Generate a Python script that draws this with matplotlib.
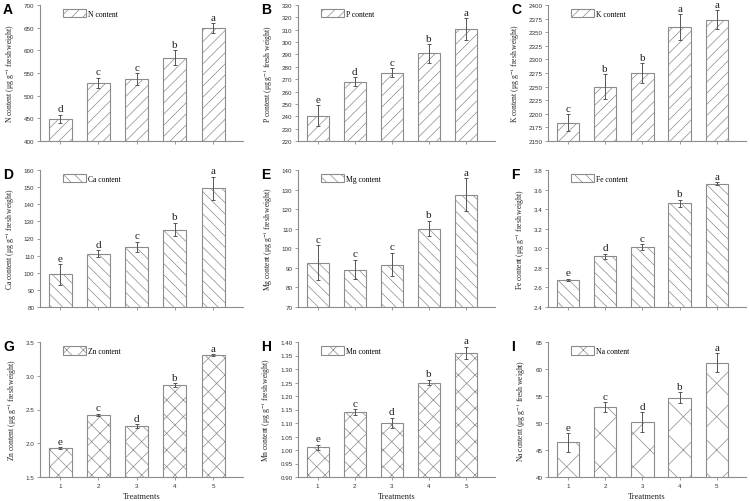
import matplotlib
matplotlib.use('Agg')
import matplotlib.pyplot as plt
from matplotlib.patches import Patch

plt.rcParams['font.family'] = ['Liberation Serif', 'DejaVu Serif']
plt.rcParams['mathtext.fontset'] = 'stix'
plt.rcParams['hatch.linewidth'] = 0.5
plt.rcParams['hatch.color'] = '#8c8c8c'

treatments = [1, 2, 3, 4, 5]

# valores (media, erro, letra)
n_vals = [449, 529, 536, 584, 649]
n_err = [9, 11, 13, 16, 11]
n_sig = ['d', 'c', 'c', 'b', 'a']

p_vals = [240.3, 268, 275.4, 290.8, 310.5]
p_err = [8.5, 3.5, 3.5, 7.5, 9]
p_sig = ['e', 'd', 'c', 'b', 'a']

k_vals = [2184, 2250, 2275, 2359, 2373]
k_err = [15, 23, 18, 24, 18]
k_sig = ['c', 'b', 'b', 'a', 'a']

ca_vals = [99, 111, 115.2, 125.2, 149.2]
ca_err = [6, 2, 3, 4, 7]
ca_sig = ['e', 'd', 'c', 'b', 'a']

mg_vals = [92.7, 89.1, 91.7, 110.1, 127.4]
mg_err = [9, 5, 6, 4, 8.3]
mg_sig = ['c', 'c', 'c', 'b', 'a']

fe_vals = [2.68, 2.92, 3.01, 3.46, 3.66]
fe_err = [0.01, 0.025, 0.03, 0.035, 0.013]
fe_sig = ['e', 'd', 'c', 'b', 'a']

zn_vals = [1.93, 2.42, 2.25, 2.86, 3.31]
zn_err = [0.01, 0.02, 0.03, 0.03, 0.01]
zn_sig = ['e', 'c', 'd', 'b', 'a']

mn_vals = [1.01, 1.14, 1.10, 1.25, 1.36]
mn_err = [0.01, 0.012, 0.02, 0.01, 0.022]
mn_sig = ['e', 'c', 'd', 'b', 'a']

na_vals = [46.4, 52.9, 50.2, 54.7, 61.2]
na_err = [1.7, 0.9, 1.8, 1.0, 1.7]
na_sig = ['e', 'c', 'd', 'b', 'a']

# (letra, elemento, valores, erros, letras, ylim, passo, hachura)
paineis = [
    ('A', 'N', n_vals, n_err, n_sig, (400, 700), 50, '///'),
    ('B', 'P', p_vals, p_err, p_sig, (220, 330), 10, '///'),
    ('C', 'K', k_vals, k_err, k_sig, (2150, 2400), 25, '///'),
    ('D', 'Ca', ca_vals, ca_err, ca_sig, (80, 160), 10, '\\\\\\'),
    ('E', 'Mg', mg_vals, mg_err, mg_sig, (70, 140), 10, '\\\\\\'),
    ('F', 'Fe', fe_vals, fe_err, fe_sig, (2.4, 3.8), 0.2, '\\\\\\'),
    ('G', 'Zn', zn_vals, zn_err, zn_sig, (1.5, 3.5), 0.5, 'xx'),
    ('H', 'Mn', mn_vals, mn_err, mn_sig, (0.90, 1.40), 0.05, 'xx'),
    ('I', 'Na', na_vals, na_err, na_sig, (40, 65), 5, 'x'),
]
formatos = ['%d', '%d', '%d', '%d', '%d', '%.1f', '%.1f', '%.2f', '%d']

W, H = 750, 502
esquerdas = [40, 298, 548]
larguras = [203, 197, 198]
topos = [6, 171, 343]
alturas = [136, 137, 135]

fig = plt.figure(figsize=(7.5, 5.02), dpi=100)

for i, (letra, elem, vals, errs, sig, ylim, passo, hatch) in enumerate(paineis):
    lin, col = divmod(i, 3)
    l, w = esquerdas[col], larguras[col]
    t, h = topos[lin], alturas[lin]
    ax = fig.add_axes([l / W, 1 - (t + h) / H, w / W, h / H])

    ax.bar(treatments, vals, width=0.6, color='white', edgecolor='#8c8c8c',
           linewidth=0.8, hatch=hatch)
    ax.errorbar(treatments, vals, yerr=errs, fmt='none', ecolor='#555555',
                elinewidth=0.7, capsize=1.5, capthick=0.7)
    for x, v, e, s in zip(treatments, vals, errs, sig):
        ax.annotate(s, (x, v + e), xytext=(0, 1), textcoords='offset points',
                    ha='center', va='bottom', fontsize=8, color='#222222')

    ax.set_xlim(0.47, 5.78)
    ax.set_ylim(*ylim)
    n = int(round((ylim[1] - ylim[0]) / passo))
    ticks = [ylim[0] + k * passo for k in range(n + 1)]
    ax.set_yticks(ticks)
    ax.set_yticklabels([formatos[i] % tk for tk in ticks])
    ax.set_xticks(treatments)
    if lin == 2:
        ax.set_xticklabels([str(x) for x in treatments])
        ax.set_xlabel('Treatments', fontsize=6, labelpad=3, color='#222222')
    else:
        ax.set_xticklabels([])

    for lado in ['top', 'right']:
        ax.spines[lado].set_visible(False)
    for lado in ['left', 'bottom']:
        ax.spines[lado].set_color('#8c8c8c')
        ax.spines[lado].set_linewidth(0.8)
    ax.tick_params(length=2, width=0.6, color='#8c8c8c', labelsize=4.5,
                   labelcolor='#333333', pad=2)
    for lb in ax.get_xticklabels() + ax.get_yticklabels():
        lb.set_fontfamily('Liberation Sans')

    ax.set_ylabel(elem + r' content (μg g$^{-1}$ fresh weight)', fontsize=5.5,
                  color='#222222', labelpad=5)

    handle = Patch(facecolor='white', edgecolor='#8c8c8c', hatch=hatch,
                   linewidth=0.8, label=elem + ' content')
    ax.legend(handles=[handle], loc='upper left', bbox_to_anchor=(0.08, 1.02),
              frameon=False, fontsize=5.5, handlelength=3.0, handleheight=1.3,
              handletextpad=0.3)

    fig.text((l - 37) / W, 1 - (t + 4) / H, letra, fontsize=10,
             fontweight='bold', fontfamily='Liberation Sans', va='center')

plt.savefig('out.png', dpi=100)
plt.close()
